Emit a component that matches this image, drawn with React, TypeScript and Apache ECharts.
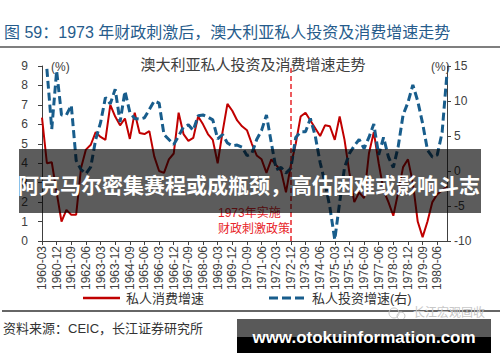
import React, { useEffect, useRef } from "react";
import * as echarts from "echarts";

const FONT = "'Liberation Sans', 'Noto Sans CJK SC', sans-serif";

const years = [1960, 1961, 1962, 1963, 1964, 1965, 1966, 1967, 1968, 1969, 1970, 1971, 1972, 1973, 1974, 1975, 1976, 1977, 1978, 1979, 1980];
const months = ["03", "06", "09", "12"];
const categories: string[] = years.flatMap((y) => months.map((m) => `${y}-${m}`));

const seriesNames = ["私人消费增速", "私人投资增速(右)"];

// 私人消费增速 (%), left axis
const consumption = [
  6.35, 4.0, 4.05, 2.5, 1.0, 1.6, 1.35, 1.35, 3.75, 4.7,
  4.95, 5.6, 5.35, 5.2, 7.0, 6.4, 5.95, 6.3, 5.25, 6.6,
  5.55, 5.5, 5.65, 4.35, 3.6, 3.5, 4.2, 4.5, 6.6, 5.5,
  5.15, 5.3, 6.4, 6.0, 5.5, 5.2, 4.0, 5.6, 7.05, 6.7,
  6.2, 5.9, 5.7, 5.0, 4.4, 4.2, 3.5, 4.2, 3.9, 3.6,
  2.5, 3.9, 5.0, 6.4, 6.6, 6.2, 5.8, 5.4, 5.95, 5.9,
  5.2, 6.4, 5.2, 3.5, 2.0, 2.5, 2.2, 4.5, 5.6, 4.0,
  2.6, 2.0, 1.3, 2.5, 3.8, 4.2, 3.0, 1.0, 0.2, 1.0,
  2.0, 2.4, 2.6, 2.8,
];

// 私人投资增速 (%), right axis
const investment = [
  null, 14.6, 6.0, 14.3, 8.0, 8.0, 9.4, 1.5, 0.2, -0.4,
  0.6, 4.5, 6.9, 10.5, 9.6, 11.7, 7.0, 11.4, 8.4, 7.5,
  7.4, 7.6, 8.8, 10.0, 9.7, 5.2, 4.5, 3.8, 5.0, 6.3,
  6.6, 5.8, 7.9, 8.0, 7.7, 7.3, 4.6, 5.2, 4.0, 3.6,
  3.7, 3.4, 2.2, 2.5, 4.5, 5.8, 8.0, 4.0, 0.2, 0.5,
  -0.3, 0.4, 4.8, 5.6, 5.6, 7.5, 5.0, 1.2, -1.7, -5.2,
  -9.8, -4.5, 0.5, 2.5, 3.6, 4.5, 3.2, 4.8, 6.7, 2.3,
  4.8, 2.0, 0.5, 3.5, 8.0, 9.8, 12.3, 10.0, 6.8, 3.0,
  2.0, 2.3, 5.5, 14.0,
];

const policyMark = "1972-12";

const RED = "#c00000";
const BLUE = "#185d8c";

export default function App() {
  const ref = useRef<HTMLDivElement>(null);

  useEffect(() => {
    if (!ref.current) return;
    const chart = echarts.init(ref.current, undefined, { renderer: "svg" });
    const axisColor = "#404040";
    chart.setOption({
      animation: false,
      backgroundColor: "#ffffff",
      textStyle: { fontFamily: FONT },
      grid: { left: 42, right: 53, top: 66, bottom: 121, containLabel: false },
      xAxis: {
        type: "category",
        data: categories,
        boundaryGap: false,
        axisLine: { lineStyle: { color: axisColor, width: 1 } },
        axisTick: { interval: 2, length: 4, lineStyle: { color: axisColor } },
        axisLabel: { interval: 2, rotate: 90, fontSize: 12, color: axisColor, margin: 5, fontFamily: FONT },
        splitLine: { show: false },
      },
      yAxis: [
        {
          type: "value", min: 0, max: 9, interval: 1, position: "left",
          axisLine: { show: true, lineStyle: { color: axisColor } },
          axisTick: { show: true, length: 4, lineStyle: { color: axisColor } },
          axisLabel: { fontSize: 12, color: axisColor, margin: 14, fontFamily: FONT },
          splitLine: { show: false },
        },
        {
          type: "value", min: -10, max: 15, interval: 5, position: "right",
          axisLine: { show: true, lineStyle: { color: axisColor } },
          axisTick: { show: true, length: 4, lineStyle: { color: axisColor } },
          axisLabel: { fontSize: 12, color: axisColor, margin: 7, fontFamily: FONT },
          splitLine: { show: false },
        },
      ],
      series: [
        {
          name: seriesNames[0], type: "line", data: consumption, yAxisIndex: 0,
          symbol: "none", lineStyle: { color: RED, width: 2 }, itemStyle: { color: RED },
          z: 2,
          markLine: {
            silent: true, symbol: "none", label: { show: false },
            lineStyle: { color: "#e8262b", type: [5, 3], width: 1.5 },
            data: [{ xAxis: policyMark }],
          },
        },
        {
          name: seriesNames[1], type: "line", data: investment, yAxisIndex: 1,
          symbol: "none", lineStyle: { color: BLUE, width: 3, type: [8, 4] }, itemStyle: { color: BLUE },
          z: 3,
        },
      ],
      graphic: [
        { type: "text", x: 4, y: 32, z: 10, style: { text: "图 59：1973 年财政刺激后，澳大利亚私人投资及消费增速走势", fill: "#265c8c", font: `16px ${FONT}`, verticalAlign: "middle" } },
        { type: "line", z: 10, shape: { x1: 0, y1: 47, x2: 500, y2: 47 }, style: { stroke: "#555", lineWidth: 1.5 } },
        { type: "text", x: 253, y: 64, z: 10, style: { text: "澳大利亚私人投资及消费增速走势", fill: "#404040", font: `15px ${FONT}`, align: "center", verticalAlign: "middle" } },
        { type: "text", x: 51, y: 67, z: 10, style: { text: "(%)", fill: "#404040", font: `12px ${FONT}`, verticalAlign: "middle" } },
        { type: "text", x: 431, y: 67, z: 10, style: { text: "(%)", fill: "#404040", font: `12px ${FONT}`, verticalAlign: "middle" } },
        { type: "text", x: 218, y: 213, z: 50, style: { text: "1973年实施", fill: "#e8262b", font: `12px ${FONT}`, verticalAlign: "middle" } },
        { type: "text", x: 218, y: 229, z: 50, style: { text: "财政刺激政策", fill: "#e8262b", font: `12px ${FONT}`, verticalAlign: "middle" } },
        { type: "rect", z: 100, shape: { x: 19, y: 149, width: 462, height: 64 }, style: { fill: "rgba(0,0,0,0.64)" } },
        { type: "text", x: 249, y: 185, z: 101, style: { text: "阿克马尔密集赛程或成瓶颈，高估困难或影响斗志", fill: "#ffffff", font: `bold 21px ${FONT}`, align: "center", verticalAlign: "middle" } },
        // legend
        { type: "line", z: 10, shape: { x1: 83, y1: 298, x2: 120, y2: 298 }, style: { stroke: RED, lineWidth: 2.5 } },
        { type: "text", x: 126, y: 298, z: 10, style: { text: seriesNames[0], fill: "#333", font: `13px ${FONT}`, verticalAlign: "middle" } },
        { type: "line", z: 10, shape: { x1: 269, y1: 298, x2: 307, y2: 298 }, style: { stroke: BLUE, lineWidth: 3, lineDash: [9, 4] } },
        { type: "text", x: 312, y: 298, z: 10, style: { text: seriesNames[1], fill: "#333", font: `13px ${FONT}`, verticalAlign: "middle" } },
        // footer
        { type: "line", z: 10, shape: { x1: 2, y1: 311, x2: 500, y2: 311 }, style: { stroke: "#333", lineWidth: 1.5 } },
        { type: "text", x: 3, y: 328, z: 10, style: { text: "资料来源：CEIC，长江证券研究所", fill: "#333", font: `13px ${FONT}`, verticalAlign: "middle" } },
        { type: "circle", z: 10, shape: { cx: 394, cy: 313, r: 5 }, style: { fill: "none", stroke: "#c8c8c8", lineWidth: 1 } },
        { type: "circle", z: 10, shape: { cx: 401, cy: 316, r: 4 }, style: { fill: "none", stroke: "#c8c8c8", lineWidth: 1 } },
        { type: "text", x: 413, y: 313, z: 10, style: { text: "长江宏观固收", fill: "#c8c8c8", font: `12px ${FONT}`, verticalAlign: "middle" } },
        { type: "rect", z: 100, shape: { x: 237, y: 319, width: 254, height: 18 }, style: { fill: "#595959" } },
        { type: "rect", z: 100, shape: { x: 237, y: 337, width: 254, height: 16 }, style: { fill: "#000000" } },
        { type: "text", x: 364, y: 337, z: 101, style: { text: "www.otokuinformation.com", fill: "#ffffff", font: `bold 17px ${FONT}`, align: "center", verticalAlign: "middle" } },
      ],
    });
    return () => chart.dispose();
  }, []);

  return (
    <div
      ref={ref}
      style={{ position: "fixed", left: 0, top: 0, width: 500, height: 362, background: "#fff" }}
    />
  );
}
